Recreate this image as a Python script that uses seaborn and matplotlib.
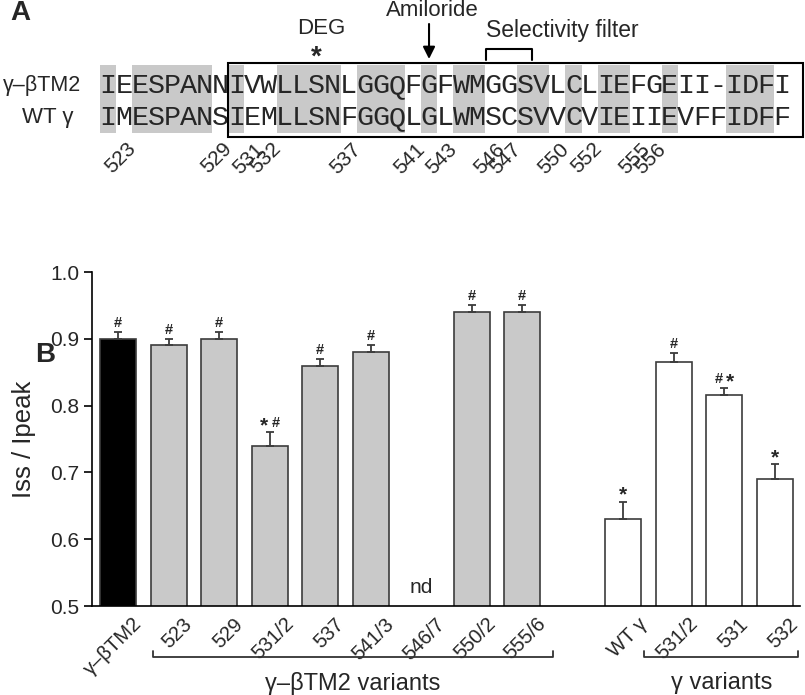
"""
Iss/Ipeak of gamma-betaTM2 chimera variants with the TM2 sequence alignment on top
"""

import numpy as np
import pandas as pd
import matplotlib
matplotlib.use("Agg")
import matplotlib.pyplot as plt
import matplotlib.transforms as mtransforms
from matplotlib.patches import Rectangle
import seaborn as sns

# Panel A data: aligned sequences
seq_chimera = "IEESPANNIVWLLSNLGGQFGFWMGGSVLCLIEFGEII-IDFI"
seq_wt = "IMESPANSIEMLLSNFGGQLGLWMSCSVVCVIEIIEVFFIDFF"
first_residue = 523
shaded_residues = [523, 525, 526, 527, 528, 529, 531, 534, 535, 536, 537,
                   539, 540, 541, 543, 545, 546, 549, 550, 552, 554, 555,
                   558, 562, 563, 564]
marked_residues = [523, 529, 531, 532, 537, 541, 543, 546, 547, 550, 552, 555, 556]
deg_residue = 536
amiloride_residue = 543
box_start_residue = 531

# Panel B data
construct_keys = ["chimera", "523", "529", "531/2", "537", "541/3", "546/7",
                  "550/2", "555/6", "g_WT", "g_531/2", "g_531", "g_532"]
tick_names = ["γ–βTM2", "523", "529", "531/2", "537", "541/3", "546/7",
              "550/2", "555/6", "WT γ", "531/2", "531", "532"]
groups = ["chimera"] + ["tm2"] * 8 + ["gamma"] * 4
ratio_mean = [0.90, 0.89, 0.90, 0.74, 0.86, 0.88, np.nan, 0.94, 0.94,
              0.63, 0.866, 0.816, 0.69]
ratio_sem = [0.010, 0.010, 0.010, 0.020, 0.010, 0.010, np.nan, 0.010, 0.010,
             0.026, 0.012, 0.010, 0.022]
sig_marks = ["#", "#", "#", "*#", "#", "#", "", "#", "#", "*", "#", "#*", "*"]

palette = {"chimera": "black", "tm2": "#c9c9c9", "gamma": "white"}
edge = "#3c3c3c"

sns.set_style("ticks")
plt.rcParams["font.family"] = ["Liberation Sans", "DejaVu Sans"]

fig = plt.figure(figsize=(8.05, 6.95), dpi=100)

# ---------------- panel A (pixel coordinates) ----------------
axA = fig.add_axes([0, 0, 1, 1])
axA.set_xlim(0, 805)
axA.set_ylim(695, 0)
axA.axis("off")

x0, cw = 100, 16.05
row_y = [85, 117]


def col_center(res):
    return x0 + (res - first_residue + 0.5) * cw


for res in shaded_residues:
    axA.add_patch(Rectangle((x0 + (res - first_residue) * cw, 65), cw, 68,
                            facecolor="#c9c9c9", edgecolor="none", zorder=1))

for row, seq in zip(row_y, [seq_chimera, seq_wt]):
    for i, ch in enumerate(seq):
        axA.text(col_center(first_residue + i), row + 1, ch, ha="center", va="center",
                 family="Liberation Mono", fontsize=20.5, zorder=3)

box_left = x0 + (box_start_residue - first_residue) * cw
axA.add_patch(Rectangle((box_left, 63), 803 - box_left, 74, facecolor="none",
                        edgecolor="black", linewidth=1.5, zorder=4))

axA.text(81, row_y[0], "γ–βTM2", ha="right", va="center", fontsize=15.5)
axA.text(73, row_y[1], "WT γ", ha="right", va="center", fontsize=16)

for res in marked_residues:
    axA.text(col_center(res) + 25, 146, str(res), rotation=45, rotation_mode="anchor",
             ha="right", va="center", fontsize=15)

axA.text(10, 13, "A", fontsize=20, fontweight="bold", ha="left", va="center")
axA.text(col_center(deg_residue) + 5, 28, "DEG", ha="center", va="center", fontsize=16)
axA.text(col_center(deg_residue), 58, "*", ha="center", va="center", fontsize=20,
         fontweight="bold")
axA.text(col_center(amiloride_residue) + 3, 10, "Amiloride", ha="center", va="center",
         fontsize=16)
axA.annotate("", xy=(col_center(amiloride_residue), 59),
             xytext=(col_center(amiloride_residue), 24),
             arrowprops=dict(arrowstyle="-|>", color="black", lw=1.5,
                             mutation_scale=18, shrinkA=0, shrinkB=0))
axA.text(486, 30, "Selectivity filter", ha="left", va="center", fontsize=16.5)
axA.plot([486, 486, 532, 532], [60, 49, 49, 60], color="black", lw=1.5)

# ---------------- panel B ----------------
ax = fig.add_axes([92 / 805, 89 / 695, 708 / 805, 334 / 695])

df = pd.DataFrame({"construct": construct_keys, "ratio": ratio_mean,
                   "sem": ratio_sem, "group": groups, "mark": sig_marks})
order = construct_keys[:9] + ["gap"] + construct_keys[9:]
labels = tick_names[:9] + [""] + tick_names[9:]

measured = df.dropna(subset=["ratio"])
sns.barplot(data=measured, x="construct", y="ratio", hue="group", order=order,
            palette=palette, width=0.72, edgecolor=edge, linewidth=1.2,
            errorbar=None, dodge=False, legend=False, ax=ax)

pos = np.array([order.index(k) for k in measured["construct"]])
ax.errorbar(pos, measured["ratio"], yerr=[np.zeros(len(pos)), measured["sem"]],
            fmt="none", ecolor=edge, elinewidth=1.3, capsize=3, capthick=1.3, zorder=3)

# significance marks, one glyph at a time so the star can be sized apart
for p, m, s, mark in zip(pos, measured["ratio"], measured["sem"], measured["mark"]):
    n = len(mark)
    for j, ch in enumerate(mark):
        dx = (j - (n - 1) / 2) * 8
        if ch == "*":
            ax.annotate(ch, (p, m + s), xytext=(dx, 0.8), textcoords="offset points",
                        ha="center", va="baseline", fontsize=15, fontweight="bold")
        else:
            ax.annotate(ch, (p, m + s), xytext=(dx, 3.6), textcoords="offset points",
                        ha="center", va="baseline", fontsize=10.5, fontweight="bold")

ax.text(order.index("546/7"), 0.513, "nd", ha="center", va="bottom", fontsize=15)

ax.set_xlim(-0.52, 13.5)
ax.set_ylim(0.5, 1.0)
ax.set_yticks(np.arange(0.5, 1.01, 0.1))
ax.set_yticklabels([f"{v:.1f}" for v in np.arange(0.5, 1.01, 0.1)], fontsize=15)
ax.tick_params(axis="y", length=6, width=1.2, color="black", pad=3)
ax.tick_params(axis="x", length=0, pad=6)
ax.set_xticks(range(len(order)))
ax.set_xticklabels(labels, rotation=45, ha="right", rotation_mode="anchor", fontsize=14.5)
shift = mtransforms.ScaledTranslation(0.14, 0, fig.dpi_scale_trans)
for lbl in ax.get_xticklabels():
    lbl.set_transform(lbl.get_transform() + shift)
ax.set_xlabel("")
ax.set_ylabel("Iss / Ipeak", fontsize=18.5, labelpad=10)
sns.despine(ax=ax)
for side in ["left", "bottom"]:
    ax.spines[side].set_color("black")
    ax.spines[side].set_linewidth(1.2)

# group brackets under the axis
blend = mtransforms.blended_transform_factory(ax.transData, ax.transAxes)
for (lo, hi), text in [((0.68, 8.6), "γ–βTM2 variants"), ((10.42, 13.47), "γ variants")]:
    ax.plot([lo, lo, hi, hi], [-0.135, -0.153, -0.153, -0.135], color="#333333",
            lw=1.3, transform=blend, clip_on=False)
    ax.text((lo + hi) / 2, -0.232, text, ha="center", va="center", fontsize=17,
            transform=blend)

fig.text(45 / 805, 1 - 355 / 695, "B", fontsize=20, fontweight="bold",
         ha="center", va="center")

fig.savefig("out.png", dpi=100)
plt.close(fig)
